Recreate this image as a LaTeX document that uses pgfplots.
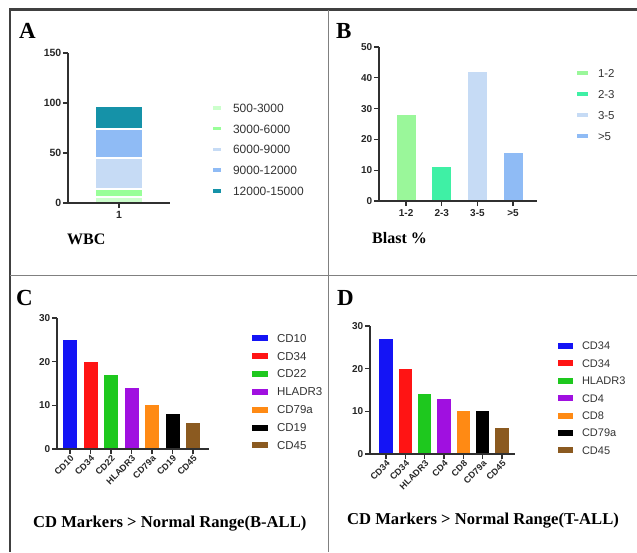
\documentclass[border=0pt]{standalone}
\usepackage{fontspec}
\setmainfont{Liberation Serif}
\setsansfont{Liberation Sans}
\usepackage{pgfplots}
\pgfplotsset{compat=1.18}
\definecolor{axisgray}{HTML}{303030}
\definecolor{gA1}{HTML}{CCFFCC}
\definecolor{gA2}{HTML}{99FF99}
\definecolor{bA3}{HTML}{C6DBF5}
\definecolor{bA4}{HTML}{8FBBF5}
\definecolor{tA5}{HTML}{1592A8}
\definecolor{gB1}{HTML}{9AF79A}
\definecolor{gB2}{HTML}{3FF0A5}
\definecolor{cBlue}{HTML}{1414F5}
\definecolor{cRed}{HTML}{FF1414}
\definecolor{cGreen}{HTML}{1EC81E}
\definecolor{cPurple}{HTML}{A010E0}
\definecolor{cOrange}{HTML}{FF8A14}
\definecolor{cBlack}{HTML}{000000}
\definecolor{cBrown}{HTML}{8B5A20}
\pgfplotsset{
  prism/.style={
    scale only axis, anchor=south west,
    axis x line*=bottom, axis y line*=left, enlargelimits=false,
    tick align=outside, major tick length=5pt,
    axis line style={line width=1.3pt, color=axisgray},
    tick style={line width=1.3pt, color=axisgray},
    /pgf/number format/assume math mode=true,
    tick label style={font=\sffamily\bfseries\fontsize{10}{11}\selectfont, text=black!85},
    yticklabel style={inner sep=1.5pt},
    ymin=0, axis on top, legend cell align=left,
    minor tick num=0,
  },
}
\begin{document}
\begin{tikzpicture}[x=1pt,y=1pt]
\path[use as bounding box] (0pt,0pt) rectangle (637pt,-552pt);
% frame
\draw[line width=2.6pt, color=black!75] (9pt,-9.7pt) -- (637pt,-9.7pt);
\draw[line width=2.8pt, color=black!75] (10pt,-8.5pt) -- (10pt,-552pt);
\draw[line width=1pt, color=black!50] (10pt,-275pt) -- (637pt,-275pt);
\draw[line width=1pt, color=black!50] (328.3pt,-10pt) -- (328.3pt,-552pt);

% ---------- Panel A ----------
\begin{axis}[prism, at={(68pt,-203pt)}, width=102pt, height=150pt,
  xmin=0.5, xmax=1.5, ymax=150, ytick={0,50,100,150}, xtick={1},
  tick label style={font=\sffamily\bfseries\fontsize{10.5}{11}\selectfont},
  ybar stacked, bar width=47.5pt,
  legend image code/.code={\fill[#1,draw=none] (0pt,-1.7pt) rectangle (8pt,1.7pt);},
  legend style={draw=none, fill=none, at={(1.4216,0.662)}, anchor=north west,
    inner sep=0pt, outer sep=0pt, row sep=12.1pt, column sep=12pt,
    font=\sffamily\fontsize{12}{14}\selectfont, text=black!80,
    nodes={inner sep=0pt, text height=8.6pt, text depth=0pt}},
]
\addplot[fill=gA1, draw=white, line width=2pt] coordinates {(1,6)};
\addplot[fill=gA2, draw=white, line width=2pt] coordinates {(1,8)};
\addplot[fill=bA3, draw=white, line width=2pt] coordinates {(1,31)};
\addplot[fill=bA4, draw=white, line width=2pt] coordinates {(1,29)};
\addplot[fill=tA5, draw=white, line width=2pt] coordinates {(1,23)};
\legend{500-3000,3000-6000,6000-9000,9000-12000,12000-15000}
\end{axis}

% ---------- Panel B ----------
\begin{axis}[prism, at={(379pt,-201pt)}, width=158pt, height=154pt,
  xmin=-0.76, xmax=3.67, ymax=50, ytick={0,10,20,30,40,50},
  xtick={0,1,2,3}, xticklabels={1-2,2-3,3-5,>5},
  ybar, bar width=19pt, bar shift=0pt,
  legend image code/.code={\fill[#1,draw=none] (0pt,-2pt) rectangle (11pt,2pt);},
  legend style={draw=none, fill=none, at={(1.2532,0.8578)}, anchor=north west,
    inner sep=0pt, outer sep=0pt, row sep=12.8pt, column sep=10pt,
    font=\sffamily\fontsize{11.5}{13}\selectfont, text=black!80,
    nodes={inner sep=0pt, text height=8.2pt, text depth=0pt}},
]
\addplot[fill=gB1, draw=none] coordinates {(0,28)};
\addplot[fill=gB2, draw=none] coordinates {(1,11)};
\addplot[fill=bA3, draw=none] coordinates {(2,42)};
\addplot[fill=bA4, draw=none] coordinates {(3,15.5)};
\legend{1-2,2-3,3-5,>5}
\end{axis}

% ---------- Panel C ----------
\begin{axis}[prism, at={(57pt,-449pt)}, width=152pt, height=131pt,
  xmin=-0.634, xmax=6.78, ymax=30, ytick={0,10,20,30},
  xtick={0,1,2,3,4,5,6}, xticklabels={CD10,CD34,CD22,HLADR3,CD79a,CD19,CD45},
  x tick label style={rotate=45, anchor=north east, inner sep=0.5pt, font=\sffamily\bfseries\fontsize{9}{9}\selectfont},
  ybar, bar width=14pt, bar shift=0pt,
  legend image code/.code={\fill[#1,draw=none] (0pt,-3pt) rectangle (16pt,3pt);},
  legend style={draw=none, fill=none, at={(1.2829,0.8786)}, anchor=north west,
    inner sep=0pt, outer sep=0pt, row sep=9.7pt, column sep=9pt,
    font=\sffamily\fontsize{11.5}{13}\selectfont, text=black!80,
    nodes={inner sep=0pt, text height=8.2pt, text depth=0pt}},
]
\addplot[fill=cBlue, draw=none] coordinates {(0,25)};
\addplot[fill=cRed, draw=none] coordinates {(1,20)};
\addplot[fill=cGreen, draw=none] coordinates {(2,17)};
\addplot[fill=cPurple, draw=none] coordinates {(3,14)};
\addplot[fill=cOrange, draw=none] coordinates {(4,10)};
\addplot[fill=cBlack, draw=none] coordinates {(5,8)};
\addplot[fill=cBrown, draw=none] coordinates {(6,6)};
\legend{CD10,CD34,CD22,HLADR3,CD79a,CD19,CD45}
\end{axis}

% ---------- Panel D ----------
\begin{axis}[prism, at={(370pt,-454pt)}, width=145pt, height=128pt,
  xmin=-0.83, xmax=6.67, ymax=30, ytick={0,10,20,30},
  xtick={0,1,2,3,4,5,6}, xticklabels={CD34,CD34,HLADR3,CD4,CD8,CD79a,CD45},
  x tick label style={rotate=45, anchor=north east, inner sep=0.5pt, font=\sffamily\bfseries\fontsize{9}{9}\selectfont},
  ybar, bar width=13.5pt, bar shift=0pt,
  legend image code/.code={\fill[#1,draw=none] (0pt,-3pt) rectangle (15pt,3pt);},
  legend style={draw=none, fill=none, at={(1.2966,0.8746)}, anchor=north west,
    inner sep=0pt, outer sep=0pt, row sep=9.5pt, column sep=9pt,
    font=\sffamily\fontsize{11}{13}\selectfont, text=black!80,
    nodes={inner sep=0pt, text height=7.9pt, text depth=0pt}},
]
\addplot[fill=cBlue, draw=none] coordinates {(0,27)};
\addplot[fill=cRed, draw=none] coordinates {(1,20)};
\addplot[fill=cGreen, draw=none] coordinates {(2,14)};
\addplot[fill=cPurple, draw=none] coordinates {(3,13)};
\addplot[fill=cOrange, draw=none] coordinates {(4,10)};
\addplot[fill=cBlack, draw=none] coordinates {(5,10)};
\addplot[fill=cBrown, draw=none] coordinates {(6,6)};
\legend{CD34,CD34,HLADR3,CD4,CD8,CD79a,CD45}
\end{axis}

% ---------- labels ----------
\node[anchor=west, inner sep=0pt, font=\bfseries\fontsize{23}{26}\selectfont] at (19pt,-31pt) {A};
\node[anchor=west, inner sep=0pt, font=\bfseries\fontsize{23}{26}\selectfont] at (336pt,-31.5pt) {B};
\node[anchor=west, inner sep=0pt, font=\bfseries\fontsize{23}{26}\selectfont] at (16pt,-297.5pt) {C};
\node[anchor=west, inner sep=0pt, font=\bfseries\fontsize{23}{26}\selectfont] at (337pt,-298pt) {D};
\node[anchor=west, inner sep=0pt, font=\bfseries\fontsize{16}{18}\selectfont] at (67pt,-239pt) {WBC};
\node[anchor=west, inner sep=0pt, font=\bfseries\fontsize{16}{18}\selectfont] at (372pt,-238.5pt) {Blast \%};
\node[anchor=base west, inner sep=0pt, font=\bfseries\fontsize{16.6}{18}\selectfont] at (33pt,-527pt) {CD Markers > Normal Range(B-ALL)};
\node[anchor=base west, inner sep=0pt, font=\bfseries\fontsize{16.6}{18}\selectfont] at (347pt,-524pt) {CD Markers > Normal Range(T-ALL)};
\end{tikzpicture}
\end{document}
